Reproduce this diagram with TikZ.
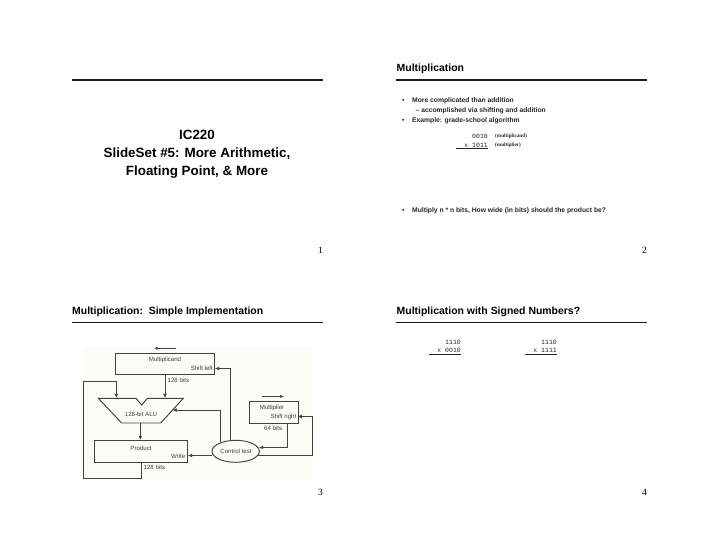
\documentclass[tikz,border=0pt]{standalone}
\usepackage{fontspec}
\setmainfont{Liberation Sans}
\newfontfamily\pagenum{Liberation Serif}
\newfontfamily\codefont{Liberation Mono}
\newfontfamily\notefont{Liberation Serif}
\usetikzlibrary{arrows.meta,shapes.geometric}
\definecolor{diagline}{RGB}{65,65,65}
\definecolor{diagtext}{RGB}{60,60,60}
\definecolor{photo}{RGB}{251,251,248}
\tikzset{x=1pt,y=-1pt,
 rulebar/.style={line width=1.9pt,draw=black!90},
 slidetitle/.style={anchor=west,inner sep=0,font=\fontsize{10.45}{12}\selectfont\bfseries},
 maintitle/.style={inner sep=0,align=center,font=\fontsize{13.4}{18}\selectfont\bfseries},
 bodytext/.style={anchor=west,inner sep=0,font=\fontsize{6.75}{8}\selectfont\bfseries,text=black!85},
 pnum/.style={anchor=east,inner sep=0,font=\fontsize{9.5}{11}\selectfont\pagenum},
 code/.style={anchor=east,inner sep=0,font=\fontsize{6.5}{8}\selectfont\codefont,text=black!85},
 note/.style={anchor=west,inner sep=0,font=\fontsize{5.2}{6}\selectfont\notefont\bfseries,text=black!85},
 under/.style={line width=0.6pt,draw=black!85},
 dbox/.style={draw=diagline,line width=0.95pt,fill=photo},
 dlabel/.style={inner sep=0,font=\fontsize{6.1}{7}\selectfont,text=diagtext},
 conn/.style={draw=diagline,line width=0.95pt,-{Latex[length=4.2pt,width=4pt]}},
 plain/.style={draw=diagline,line width=0.8pt}}
\begin{document}
\begin{tikzpicture}
\useasboundingbox (0,0) rectangle (720,557);
\fill[white] (0,0) rectangle (720,557);
% slide 1
\draw[rulebar] (72,80) -- (323,80);
\node[maintitle] (t1) at (197,154.5) {IC220\\SlideSet \#5: More Arithmetic,\\Floating Point, \& More};
\node[pnum] (p1) at (323,250) {1};
% slide 2
\node[slidetitle] (t2) at (396.5,68.5) {Multiplication};
\draw[rulebar] (396,80) -- (647,80);
\node[bodytext] (b0) at (402,100.7) {•};
\node[bodytext] (b1) at (412,100.7) {More complicated than addition};
\node[bodytext] (b2) at (415.5,110.7) {– accomplished via shifting and addition};
\node[bodytext] (b3) at (402,120.7) {•};
\node[bodytext] (b4) at (412,120.7) {Example: grade-school algorithm};
\node[code] (c1) at (488,136.3) {0010};
\node[code] (c2) at (488,144.9) {x 1011};
\draw[under] (456,148.4) -- (488,148.4);
\node[note] (n1) at (495,136.5) {(multiplicand)};
\node[note] (n2) at (495,145) {(multiplier)};
\node[bodytext] (b5) at (402,211) {•};
\node[bodytext] (b6) at (412,211) {Multiply n * n bits, How wide (in bits) should the product be?};
\node[pnum] (p2) at (647,250) {2};
% slide 3
\node[slidetitle] (t3) at (72,312) {Multiplication:\ \ Simple Implementation};
\draw[rulebar] (72,322.5) -- (323,322.5);
\fill[photo] (84,346) rectangle (312,480);
\draw[plain,-{Latex[length=3.6pt,width=3.2pt]}] (175.5,348.3) -- (154,348.3);
\draw[plain,-{Latex[length=3.6pt,width=3.2pt]}] (262,396.5) -- (284,396.5);
\node[dbox,minimum width=98.7pt,minimum height=21.7pt,inner sep=0,anchor=north west] (mcand) at (115.3,352.7) {};
\node[dlabel] at (165,360) {Multiplicand};
\node[dlabel,anchor=east] (sl) at (213,368.5) {Shift left};
\node[dbox,minimum width=92.7pt,minimum height=22.3pt,inner sep=0,anchor=north west] (prod) at (94.3,440) {};
\node[dlabel] at (141,448) {Product};
\node[dlabel,anchor=east] (wr) at (185.5,456) {Write};
\node[dbox,minimum width=48.7pt,minimum height=22.3pt,inner sep=0,anchor=north west] (mplier) at (249,401) {};
\node[dlabel] at (272,408) {Multiplier};
\node[dlabel,anchor=east] at (296.5,417) {Shift right};
\node[dbox,ellipse,minimum width=47.4pt,minimum height=22pt,inner sep=0] (ctrl) at (235.7,451.3) {};
\node[dlabel] at (236,451.3) {Control test};
\path[dbox] (98.3,398.3) -- (136,398.3) -- (141.7,405) -- (147.3,398.3) -- (183.3,398.3) -- (160.7,423) -- (121.7,423) -- cycle;
\node[dlabel] (alu) at (141,414) {128-bit ALU};
\coordinate (aluL) at (116.3,398);
\coordinate (aluR) at (165,398);
\coordinate (aluB) at (140.3,423);
\coordinate (aluS) at (172.5,410);
\coordinate (mO) at (165,374.4);
\draw[conn] (mO) -- (aluR);
\draw[conn] (aluB) -- (aluB |- prod.north);
\draw[conn] (141,462.3) -- (141,478.3) -- (83.3,478.3) -- (83.3,381.3) -- (116.3,381.3) -- (aluL);
\draw[conn] (220.5,441.5) -- (220.5,410) -- (aluS);
\draw[conn] (230.5,440.5) -- (230.5,368.5) -- (mcand.east |- sl);
\draw[conn] (212,455.5) -- (prod.east |- 0,455.5);
\draw[conn] (287,423.3) -- (287,447.5) -- (259,447.5);
\draw[conn] (258,455.2) -- (312.3,455.2) -- (312.3,416.5) -- (297.7,416.5);
\node[dlabel,anchor=west] at (167.5,380) {128 bits};
\node[dlabel,anchor=west] at (143.5,467.5) {128 bits};
\node[dlabel,anchor=west] at (264,428.5) {64 bits};
\node[pnum] (p3) at (323,492) {3};
% slide 4
\node[slidetitle] (t4) at (396.5,311.5) {Multiplication with Signed Numbers?};
\draw[rulebar] (396,322.5) -- (647,322.5);
\node[code] (d1) at (461,342.4) {1110};
\node[code] (d2) at (461,350.8) {x 0010};
\draw[under] (429,354) -- (461,354);
\node[code] (e1) at (557,342.4) {1110};
\node[code] (e2) at (557,350.8) {x 1111};
\draw[under] (524.5,354) -- (557,354);
\node[pnum] (p4) at (647,492) {4};
\end{tikzpicture}
\end{document}
